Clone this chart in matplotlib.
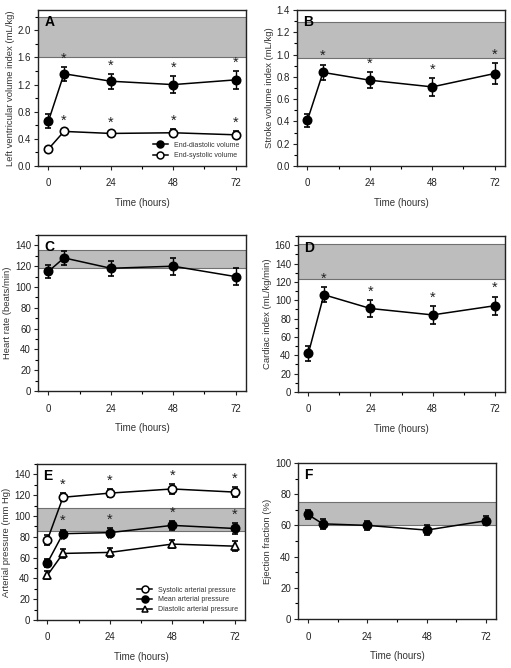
import matplotlib.pyplot as plt
from matplotlib.lines import Line2D
from matplotlib.ticker import MultipleLocator

plt.rcParams["font.family"] = ["Liberation Sans", "DejaVu Sans"]
plt.rcParams["font.size"] = 6.5

# time points (hours)
hours = [0, 6, 24, 48, 72]

# (A) LV volume index
edv = [0.66, 1.36, 1.25, 1.20, 1.27]
edv_err = [0.10, 0.10, 0.11, 0.12, 0.13]
esv = [0.25, 0.51, 0.48, 0.49, 0.46]
esv_err = [0.03, 0.04, 0.04, 0.05, 0.05]
# (B) stroke volume index
svi = [0.41, 0.84, 0.77, 0.71, 0.83]
svi_err = [0.06, 0.07, 0.07, 0.08, 0.09]
# (C) heart rate
hr = [115, 128, 118, 120, 110]
hr_err = [6, 7, 7, 8, 8]
# (D) cardiac index
ci = [42, 106, 91, 84, 94]
ci_err = [8, 8, 9, 10, 10]
# (E) arterial pressure
sap = [77, 118, 122, 126, 123]
sap_err = [5, 4, 4, 5, 5]
map_ = [55, 83, 84, 91, 88]
map_err = [4, 4, 4, 4, 5]
dap = [43, 64, 65, 73, 71]
dap_err = [4, 4, 4, 4, 5]
# (F) ejection fraction
ef = [67, 61, 60, 57, 63]
ef_err = [3, 3, 3, 3, 3]

# normal reference ranges (shaded)
normal_ranges = {"A": (1.6, 2.2), "B": (0.97, 1.29), "C": (118, 136),
                 "D": (123, 161), "E": (86, 108), "F": (60, 75)}

W, H = 511, 668
fig = plt.figure(figsize=(W / 100, H / 100), dpi=100)


def make_ax(left, top, right, bottom):
    return fig.add_axes([left / W, 1 - bottom / H, (right - left) / W, (bottom - top) / H])


def style(ax, letter, ylim, major, minor, ylabel, fmt=None):
    lo, hi = normal_ranges[letter]
    ax.axhspan(lo, hi, facecolor="#bdbdbd", edgecolor="#707070", lw=0.8, zorder=0)
    ax.set_xlim(-4, 76)
    ax.set_ylim(*ylim)
    ax.set_xticks([0, 24, 48, 72])
    ax.xaxis.set_minor_locator(MultipleLocator(12))
    ax.yaxis.set_major_locator(MultipleLocator(major))
    ax.yaxis.set_minor_locator(MultipleLocator(minor))
    if fmt:
        ax.yaxis.set_major_formatter(fmt)
    ax.tick_params(direction="out", length=3, width=0.8, colors="#222222",
                   labelsize=7, pad=2)
    ax.tick_params(which="minor", direction="out", length=2, width=0.8)
    ax.tick_params(axis="x", pad=6)
    for s in ax.spines.values():
        s.set_linewidth(1.0)
        s.set_color("#222222")
    ax.set_xlabel("Time (hours)", fontsize=7, labelpad=7, color="#333333")
    ax.set_ylabel(ylabel, fontsize=6.8, color="#333333", labelpad=2)
    ax.text(0.03, 0.965, letter, transform=ax.transAxes, fontsize=10,
            fontweight="bold", va="top", ha="left")


def series(ax, y, err, marker="o", filled=True, stars=True):
    mfc = "black" if filled else "white"
    ax.errorbar(hours, y, yerr=err, color="black", marker=marker,
                ms=6 if marker == "o" else 5.5,
                mfc=mfc, mec="black", mew=1.2, lw=1.1, capsize=2.2, elinewidth=1.0,
                capthick=1.0, zorder=3)
    if stars:
        for x, v, e in zip(hours[1:], y[1:], err[1:]):
            ax.annotate("*", (x, v + e), xytext=(0, 1), textcoords="offset points",
                        ha="center", va="bottom", fontsize=10.5, color="#222222")


def key(marker, filled, label):
    return Line2D([], [], color="black", marker=marker, ms=5, lw=1.1, mew=1.1,
                  mfc="black" if filled else "white", mec="black", label=label)


# A
ax = make_ax(38, 10, 246, 166)
style(ax, "A", (0, 2.3), 0.4, 0.2, "Left ventricular volume index (mL/kg)",
      fmt=plt.FormatStrFormatter("%.1f"))
series(ax, edv, edv_err)
series(ax, esv, esv_err, filled=False)
ax.legend(handles=[key("o", True, "End-diastolic volume"),
                   key("o", False, "End-systolic volume")],
          loc="lower right", fontsize=5, frameon=False, handlelength=2.2,
          borderaxespad=0.6, labelspacing=0.5, labelcolor="#333333")

# B
ax = make_ax(297, 10, 505, 166)
style(ax, "B", (0, 1.4), 0.2, 0.1, "Stroke volume index (mL/kg)",
      fmt=plt.FormatStrFormatter("%.1f"))
series(ax, svi, svi_err)

# C
ax = make_ax(38, 235, 246, 391)
style(ax, "C", (0, 150), 20, 10, "Heart rate (beats/min)")
series(ax, hr, hr_err, stars=False)

# D
ax = make_ax(298, 236, 505, 392)
style(ax, "D", (0, 170), 20, 10, "Cardiac index (mL/kg/min)")
series(ax, ci, ci_err)

# E
ax = make_ax(37, 464, 245, 620)
style(ax, "E", (0, 150), 20, 10, "Arterial pressure (mm Hg)")
series(ax, sap, sap_err, filled=False)
series(ax, map_, map_err)
series(ax, dap, dap_err, marker="^", filled=False)
ax.legend(handles=[key("o", False, "Systolic arterial pressure"),
                   key("o", True, "Mean arterial pressure"),
                   key("^", False, "Diastolic arterial pressure")],
          loc="lower right", fontsize=5, frameon=False, handlelength=2.2,
          borderaxespad=0.6, labelspacing=0.4, labelcolor="#333333")

# F
ax = make_ax(298, 463, 496, 619)
style(ax, "F", (0, 100), 20, 10, "Ejection fraction (%)")
series(ax, ef, ef_err, stars=False)

fig.savefig("out.png", dpi=100)
